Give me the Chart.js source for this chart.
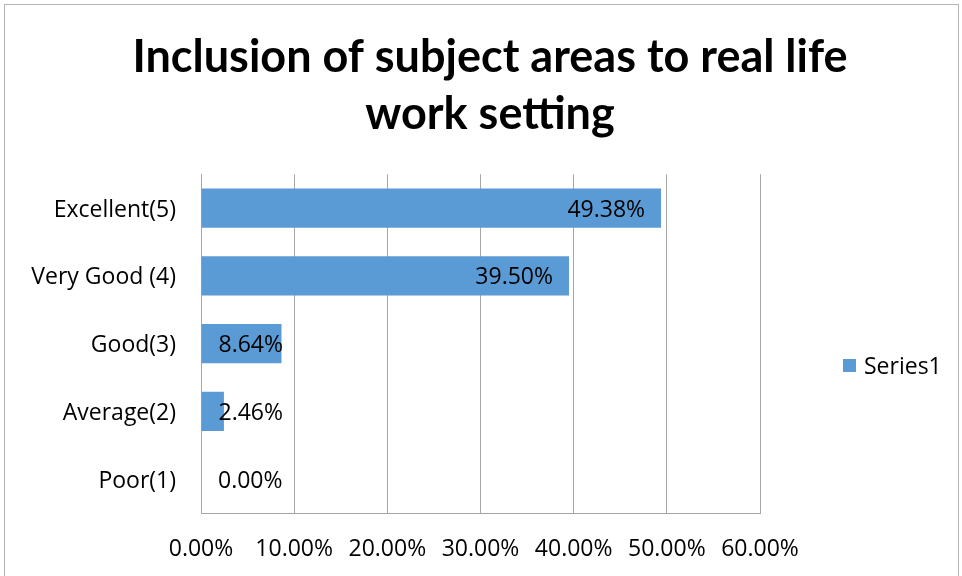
<!DOCTYPE html>
<html>
<head>
<meta charset="utf-8">
<script src="https://cdn.jsdelivr.net/npm/chart.js@4/dist/chart.umd.min.js"></script>
<style>
    html, body { margin: 0; padding: 0; background: #fff; }
    #wrap { position: relative; width: 962px; height: 576px; overflow: hidden; }
    #frame { position: absolute; left: 4px; top: 4px; width: 953px; height: 600px; border: 1px solid #b4b4b4; pointer-events: none; }
</style>
</head>
<body>
<div id="wrap">
    <canvas id="chart" width="962" height="576"></canvas>
    <div id="frame"></div>
</div>
<script>
const titleLines = ['Inclusion of subject areas to real life', 'work setting'];
const categories = ['Excellent(5)', 'Very Good (4)', 'Good(3)', 'Average(2)', 'Poor(1)'];
const series1 = [49.38, 39.50, 8.64, 2.46, 0.00];
const xTicks = [0, 10, 20, 30, 40, 50, 60];

const barColour = '#5b9bd5';
const gridColour = '#a6a6a6';
const titleFont = 'Lato, "Open Sans", sans-serif';
const textFont = '"Open Sans", Lato, sans-serif';
const textSize = 23;

// labels sit inside the bar end, but never left of a minimum offset from the axis
const barLabels = {
    id: 'barLabels',
    afterDatasetsDraw(chart) {
        const ctx = chart.ctx;
        const meta = chart.getDatasetMeta(0);
        ctx.save();
        ctx.font = textSize + 'px ' + textFont;
        ctx.fillStyle = '#000';
        ctx.textAlign = 'right';
        ctx.textBaseline = 'middle';
        meta.data.forEach((bar, i) => {
            let text = series1[i].toFixed(2) + '%';
            let w = ctx.measureText(text).width;
            let x = Math.max(bar.x - 16, bar.base + 17 + w);
            ctx.fillText(text, x, bar.y + 2);
        });
        ctx.restore();
    }
};

// reserves the space right of the plot and draws the legend in it
const sideLegend = {
    id: 'sideLegend',
    beforeInit(chart) {
        const box = {
            position: 'right',
            weight: 0,
            fullSize: false,
            options: {},
            width: 0, height: 0, left: 0, top: 0, right: 0, bottom: 0,
            isHorizontal() { return false; },
            getPadding() { return { top: 0, left: 0, right: 0, bottom: 0 }; },
            update(maxWidth, maxHeight) {
                this.width = 202;
                this.height = maxHeight;
            },
            draw() {}
        };
        Chart.layouts.addBox(chart, box);
    },
    afterDraw(chart) {
        const ctx = chart.ctx;
        const ds = chart.data.datasets[0];
        ctx.save();
        ctx.fillStyle = ds.backgroundColor;
        ctx.fillRect(843, 359, 13, 13);
        ctx.font = textSize + 'px ' + textFont;
        ctx.fillStyle = '#000';
        ctx.textAlign = 'left';
        ctx.textBaseline = 'middle';
        ctx.fillText(ds.label, 864, 367);
        ctx.restore();
    }
};

new Chart(document.getElementById('chart'), {
    type: 'bar',
    data: {
        labels: categories,
        datasets: [{
            label: 'Series1',
            data: series1,
            backgroundColor: barColour,
            borderWidth: 0,
            barPercentage: 0.58,
            categoryPercentage: 1
        }]
    },
    options: {
        indexAxis: 'y',
        responsive: false,
        animation: false,
        layout: { padding: { left: 18, right: 0, top: 0, bottom: 0 } },
        plugins: {
            legend: { display: false },
            tooltip: { enabled: false },
            title: {
                display: true,
                text: titleLines,
                color: '#000',
                font: { family: titleFont, size: 45, weight: 'bold', lineHeight: 1.27 },
                padding: { top: 29, bottom: 31 }
            }
        },
        scales: {
            x: {
                min: 0,
                max: 60,
                afterBuildTicks(scale) {
                    scale.ticks = xTicks.map(v => ({ value: v }));
                },
                afterFit(scale) { scale.height = 63; },
                grid: { color: gridColour, drawTicks: false },
                border: { color: gridColour },
                ticks: {
                    padding: 23,
                    color: '#000',
                    font: { family: textFont, size: textSize },
                    callback: v => v.toFixed(2) + '%'
                }
            },
            y: {
                afterFit(scale) { scale.width = 183; },
                grid: { display: false, drawTicks: false },
                border: { color: gridColour },
                ticks: {
                    padding: 25,
                    labelOffset: 2,
                    color: '#000',
                    font: { family: textFont, size: textSize }
                }
            }
        }
    },
    plugins: [barLabels, sideLegend]
});
</script>
</body>
</html>
